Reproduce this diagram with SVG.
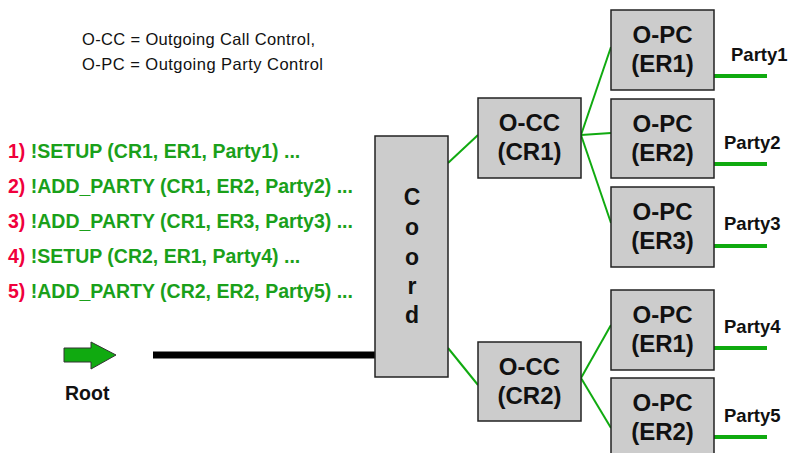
<svg xmlns="http://www.w3.org/2000/svg" width="788" height="453" viewBox="0 0 788 453">
<style>
.box{fill:#cccccc;stroke:#222;stroke-width:1.5}
.lbl{font-family:"Liberation Sans",Arial,sans-serif;font-weight:bold;font-size:24px;fill:#111;text-anchor:middle}
.crd{font-family:"Liberation Sans",Arial,sans-serif;font-weight:bold;font-size:23px;fill:#111;text-anchor:middle}
.pty{font-family:"Liberation Sans",Arial,sans-serif;font-weight:bold;font-size:18.5px;fill:#111}
.cmd{font-family:"Liberation Sans",Arial,sans-serif;font-weight:bold;font-size:19.5px;fill:#1aa01a}
.num{fill:#f0003c}
.hdr{font-family:"Liberation Sans",Arial,sans-serif;font-size:16.5px;fill:#111}
.gl{stroke:#10aa10;stroke-width:2;fill:none}
.pl{stroke:#10aa10;stroke-width:4;fill:none}
</style>
<rect width="788" height="453" fill="#fff"/>
<g id="legend">
<text class="hdr" x="82" y="45" textLength="233" lengthAdjust="spacing">O-CC = Outgoing Call Control,</text>
<text class="hdr" x="82" y="70" textLength="241" lengthAdjust="spacing">O-PC = Outgoing Party Control</text>
</g>
<g id="commands">
<text class="cmd" x="8" y="158"><tspan class="num">1)</tspan> !SETUP (CR1, ER1, Party1) ...</text>
<text class="cmd" x="8" y="193"><tspan class="num">2)</tspan> !ADD_PARTY (CR1, ER2, Party2) ...</text>
<text class="cmd" x="8" y="228"><tspan class="num">3)</tspan> !ADD_PARTY (CR1, ER3, Party3) ...</text>
<text class="cmd" x="8" y="263"><tspan class="num">4)</tspan> !SETUP (CR2, ER1, Party4) ...</text>
<text class="cmd" x="8" y="298"><tspan class="num">5)</tspan> !ADD_PARTY (CR2, ER2, Party5) ...</text>
</g>
<g id="root">
<polygon points="64,348 91,348 91,342 116,355 91,369 91,362 64,362" fill="#10aa10" stroke="#333" stroke-width="1"/>
<text class="pty" x="65" y="400" style="font-size:19.5px">Root</text>
</g>
<g id="connectors">
<line x1="153" y1="355" x2="375" y2="355" stroke="#000" stroke-width="7"/>
<line class="gl" x1="448" y1="163" x2="478" y2="135"/>
<line class="gl" x1="448" y1="348" x2="478" y2="385"/>
<line class="gl" x1="581" y1="135" x2="611" y2="47"/>
<line class="gl" x1="581" y1="135" x2="611" y2="133"/>
<line class="gl" x1="581" y1="135" x2="611" y2="223"/>
<line class="gl" x1="581" y1="378" x2="611" y2="325"/>
<line class="gl" x1="581" y1="378" x2="611" y2="428"/>
<line class="pl" x1="714" y1="76" x2="767" y2="76"/>
<line class="pl" x1="714" y1="164" x2="767" y2="164"/>
<line class="pl" x1="714" y1="246" x2="767" y2="246"/>
<line class="pl" x1="714" y1="348" x2="767" y2="348"/>
<line class="pl" x1="714" y1="437" x2="767" y2="437"/>
</g>
<g id="coord">
<rect class="box" x="375" y="136" width="73" height="241"/>
<text class="crd" x="412" y="205">C</text>
<text class="crd" x="412" y="235">o</text>
<text class="crd" x="412" y="265">o</text>
<text class="crd" x="412" y="294">r</text>
<text class="crd" x="412" y="323">d</text>
</g>
<g id="occ1">
<rect class="box" x="478" y="98" width="103" height="80"/>
<text class="lbl" x="529.5" y="131">O-CC</text>
<text class="lbl" x="529.5" y="160">(CR1)</text>
</g>
<g id="occ2">
<rect class="box" x="478" y="342" width="103" height="79"/>
<text class="lbl" x="529.5" y="375">O-CC</text>
<text class="lbl" x="529.5" y="404">(CR2)</text>
</g>
<g id="opc1">
<rect class="box" x="611" y="10" width="103" height="80"/>
<text class="lbl" x="662.5" y="43">O-PC</text>
<text class="lbl" x="662.5" y="72">(ER1)</text>
</g>
<g id="opc2">
<rect class="box" x="611" y="99" width="103" height="79"/>
<text class="lbl" x="662.5" y="132">O-PC</text>
<text class="lbl" x="662.5" y="161">(ER2)</text>
</g>
<g id="opc3">
<rect class="box" x="611" y="187" width="103" height="80"/>
<text class="lbl" x="662.5" y="220">O-PC</text>
<text class="lbl" x="662.5" y="249">(ER3)</text>
</g>
<g id="opc4">
<rect class="box" x="611" y="290" width="103" height="80"/>
<text class="lbl" x="662.5" y="323">O-PC</text>
<text class="lbl" x="662.5" y="352">(ER1)</text>
</g>
<g id="opc5">
<rect class="box" x="611" y="378" width="103" height="80"/>
<text class="lbl" x="662.5" y="411">O-PC</text>
<text class="lbl" x="662.5" y="440">(ER2)</text>
</g>
<g id="parties">
<text class="pty" x="731" y="61">Party1</text>
<text class="pty" x="724" y="149">Party2</text>
<text class="pty" x="724" y="230">Party3</text>
<text class="pty" x="724" y="333">Party4</text>
<text class="pty" x="724" y="422">Party5</text>
</g>
</svg>
